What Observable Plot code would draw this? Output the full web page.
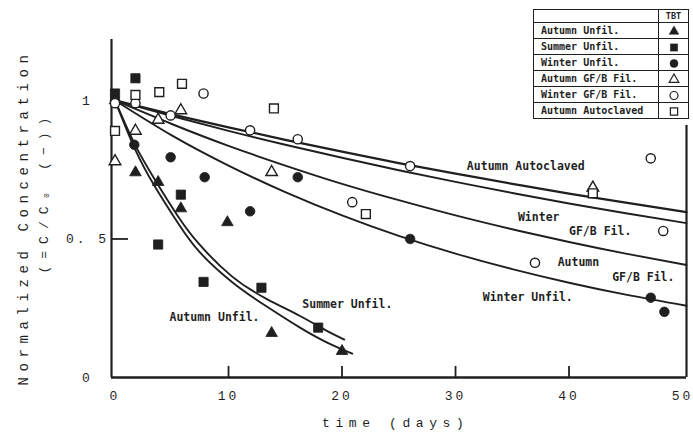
<!DOCTYPE html>
<html><head><meta charset="utf-8">
<script src="https://cdn.jsdelivr.net/npm/d3@7"></script>
<script src="https://cdn.jsdelivr.net/npm/@observablehq/plot@0.6"></script>
<style>
html,body{margin:0;padding:0;background:#fff;}
#wrap{position:relative;width:693px;height:436px;overflow:hidden;background:#fff;}
#legend{position:absolute;left:533px;top:9px;border-collapse:collapse;border:1.5px solid #1f1f1f;background:#fff;
  font-family:"DejaVu Sans Mono",monospace;font-size:10px;font-weight:bold;color:#1f1f1f;}
#legend td{border:1px solid #1f1f1f;padding:0;height:15px;line-height:12px;}
#legend td.name{width:117px;padding-left:7px;text-align:left;}
#legend td.sym{width:29px;text-align:center;}
#legend tr.head td{height:12px;font-size:8.5px;}
#legend svg{display:block;margin:0 auto;}
</style></head>
<body><div id="wrap"></div>
<script>
// ---- measured data (time in days, normalized concentration C/C0) ----
const autumnUnfilT = [0, 1.8, 3.8, 5.8, 9.9, 13.8, 20.0];
const autumnUnfilC = [1.0, 0.74, 0.705, 0.61, 0.56, 0.16, 0.095];
const summerUnfilT = [0, 1.8, 3.8, 5.8, 7.8, 12.9, 17.9];
const summerUnfilC = [1.025, 1.08, 0.48, 0.66, 0.345, 0.324, 0.18];
const winterUnfilT = [0, 1.7, 4.9, 7.9, 11.9, 16.1, 26.0, 47.2, 48.4];
const winterUnfilC = [1.0, 0.84, 0.795, 0.723, 0.60, 0.723, 0.50, 0.288, 0.237];
const autumnGFBT = [0, 1.8, 3.8, 5.8, 13.8, 42.1];
const autumnGFBC = [0.78, 0.89, 0.93, 0.964, 0.741, 0.685];
const winterGFBT = [0, 1.8, 4.9, 7.8, 11.9, 16.1, 20.9, 26.0, 37.0, 47.2, 48.3];
const winterGFBC = [0.99, 0.99, 0.946, 1.025, 0.892, 0.86, 0.633, 0.763, 0.414, 0.791, 0.529];
const autumnAutoT = [0, 1.8, 3.9, 5.9, 14.0, 22.1, 42.1];
const autumnAutoC = [0.89, 1.02, 1.03, 1.06, 0.971, 0.59, 0.665];

// ---- fitted curves ----
const slowT = [0, 5, 10, 15, 20, 25, 30, 35, 40, 45, 50.35];
const curveAutoC = [1, 0.950, 0.903, 0.858, 0.815, 0.774, 0.736, 0.699, 0.664, 0.631, 0.597];
const curveWinterGFBC = [1, 0.944, 0.890, 0.840, 0.793, 0.748, 0.706, 0.666, 0.628, 0.593, 0.557];
const curveAutumnGFBC = [1, 0.915, 0.836, 0.765, 0.699, 0.640, 0.585, 0.535, 0.489, 0.447, 0.406];
const curveWinterUnfilC = [1, 0.874, 0.765, 0.669, 0.585, 0.511, 0.447, 0.391, 0.342, 0.299, 0.259];
const curveSummerT = [0, 1.7, 3.5, 5.5, 7.4, 10.3, 13.3, 16.3, 18.5, 20.2];
const curveSummerC = [1, 0.845, 0.715, 0.585, 0.482, 0.365, 0.285, 0.222, 0.172, 0.137];
const curveAutumnT = [0, 1.7, 3.5, 5.5, 7.4, 10.3, 13.3, 16.3, 18.6, 20.9];
const curveAutumnC = [1, 0.83, 0.69, 0.56, 0.455, 0.345, 0.258, 0.18, 0.128, 0.086];

// ---- in-plot labels ----
const labelText = ["Autumn Autoclaved", "Winter", "GF/B Fil.", "Autumn", "GF/B Fil.", "Winter Unfil.", "Summer Unfil.", "Autumn Unfil."];
const labelT = [31.0, 35.5, 40.0, 39.0, 43.8, 32.4, 16.5, 4.8];
const labelC = [0.763, 0.579, 0.529, 0.417, 0.363, 0.291, 0.263, 0.219];

// ---- axes ----
const xDomain = [-0.31, 50.35];
const yDomain = [0, 1.22];
const xTickLabels = [0, 10, 20, 30, 40, 50];
const xTickMarks = [10, 20, 30, 40];
const yTickValues = [0, 0.5, 1];
const yTickText = ["0", "0. 5", "1"];
const xTitle = "time (days)";
const yTitle1 = "Normalized Concentration";
const yTitle2 = "(=C/C\u2080 (\u2212))";

// ---- legend ----
const legendHeader = "TBT";
const legendNames = ["Autumn Unfil.", "Summer Unfil.", "Winter Unfil.", "Autumn GF/B Fil.", "Winter GF/B Fil.", "Autumn Autoclaved"];
const legendSymbols = ["triangle", "square", "circle", "triangle", "circle", "square"];
const legendFilled = [true, true, true, false, false, false];

const ink = "#1f1f1f";
const pts = (t, c) => t.map((d, i) => ({t: d, c: c[i]}));

const series = [
  {t: autumnUnfilT, c: autumnUnfilC, symbol: "triangle", filled: true, r: 4.3},
  {t: summerUnfilT, c: summerUnfilC, symbol: "square", filled: true, r: 5.2},
  {t: winterUnfilT, c: winterUnfilC, symbol: "circle", filled: true, r: 4.8},
  {t: autumnGFBT, c: autumnGFBC, symbol: "triangle", filled: false, r: 4.3},
  {t: winterGFBT, c: winterGFBC, symbol: "circle", filled: false, r: 4.6},
  {t: autumnAutoT, c: autumnAutoC, symbol: "square", filled: false, r: 5.0}
];
const curves = [
  {t: slowT, c: curveAutoC, w: 2.3},
  {t: slowT, c: curveWinterGFBC, w: 1.9},
  {t: slowT, c: curveAutumnGFBC, w: 1.9},
  {t: slowT, c: curveWinterUnfilC, w: 1.9},
  {t: curveSummerT, c: curveSummerC, w: 1.9},
  {t: curveAutumnT, c: curveAutumnC, w: 1.9}
];
const labels = labelText.map((s, i) => ({label: s, t: labelT[i], c: labelC[i]}));
const yTicks = yTickValues.map((v, i) => ({v, s: yTickText[i]}));

const plot = Plot.plot({
  width: 693, height: 436,
  marginLeft: 111, marginRight: 7, marginTop: 39, marginBottom: 59,
  x: {domain: xDomain, axis: null},
  y: {domain: yDomain, axis: null},
  style: {background: "#fff", color: ink, fontFamily: "'Liberation Mono', monospace"},
  marks: [
    ...curves.map(cv => Plot.line(pts(cv.t, cv.c), {x: "t", y: "c", stroke: ink, strokeWidth: cv.w, curve: "natural"})),
    // axes frame
    Plot.ruleX([xDomain[0]], {y1: yDomain[0], y2: yDomain[1], stroke: ink, strokeWidth: 2.2}),
    Plot.ruleX([xDomain[1]], {y1: yDomain[0], y2: 0.91, stroke: ink, strokeWidth: 2.2}),
    Plot.ruleY([yDomain[0]], {x1: xDomain[0], x2: xDomain[1], stroke: ink, strokeWidth: 2.4}),
    Plot.ruleX(xTickMarks, {y1: 0, y2: 0.04, stroke: ink, strokeWidth: 1.8}),
    Plot.ruleY([0.5], {x1: xDomain[0], x2: xDomain[0] + 1.5, stroke: ink, strokeWidth: 1.8}),
    // tick labels
    Plot.text(xTickLabels, {x: d => d, y: 0, dy: 18, text: d => String(d), fontSize: 13, fill: ink}),
    Plot.text(yTicks, {x: xDomain[0], y: "v", dx: -24, text: "s", fontSize: 13, fill: ink}),
    // titles (start-anchored so the letter spacing grows in the reading direction)
    Plot.text([xTitle], {frameAnchor: "bottom", textAnchor: "start", dx: -77, dy: 49, text: d => d, fontSize: 13, fill: ink}),
    Plot.text([yTitle1], {frameAnchor: "left", textAnchor: "start", dx: -88, dy: 177, rotate: -90, text: d => d, fontSize: 14, fill: ink}),
    Plot.text([yTitle2], {frameAnchor: "left", textAnchor: "start", dx: -68, dy: 65, rotate: -90, text: d => d, fontSize: 13, fill: ink}),
    // curve labels
    Plot.text(labels, {x: "t", y: "c", text: "label", textAnchor: "start", fontSize: 11.5, fontWeight: "bold", fill: ink,
      fontFamily: "'DejaVu Sans Mono', monospace"}),
    // points
    ...series.map(s => Plot.dot(pts(s.t, s.c), {x: "t", y: "c", symbol: s.symbol, r: s.r,
      fill: s.filled ? ink : "#fff", stroke: ink, strokeWidth: s.filled ? 0.8 : 1.4}))
  ]
});
const wrap = document.getElementById("wrap");
wrap.appendChild(plot);
// letter spacing of the typewriter-style axis texts
const tickSet = new Set([...xTickLabels.map(String), ...yTickText]);
d3.select(plot).selectAll("text").each(function() {
  const t = this.textContent;
  if (tickSet.has(t)) this.setAttribute("letter-spacing", "3px");
  else if (t === xTitle || t === yTitle1) this.setAttribute("letter-spacing", "5.6px");
  else if (t === yTitle2) this.setAttribute("letter-spacing", "7px");
});

// legend table
const table = document.createElement("table");
table.id = "legend";
const head = table.insertRow();
head.className = "head";
const h1 = head.insertCell(); h1.className = "name";
const h2 = head.insertCell(); h2.className = "sym"; h2.textContent = legendHeader;
const symMap = {triangle: d3.symbolTriangle, square: d3.symbolSquare, circle: d3.symbolCircle};
const symSize = {triangle: 40, square: 52, circle: 50};
legendNames.forEach((name, i) => {
  const row = table.insertRow();
  const c1 = row.insertCell(); c1.className = "name"; c1.textContent = name;
  const c2 = row.insertCell(); c2.className = "sym";
  const svg = d3.create("svg").attr("width", 12).attr("height", 12);
  svg.append("path").attr("transform", "translate(6,6.5)")
    .attr("d", d3.symbol(symMap[legendSymbols[i]], symSize[legendSymbols[i]])())
    .attr("fill", legendFilled[i] ? ink : "#fff").attr("stroke", ink).attr("stroke-width", legendFilled[i] ? 0.5 : 1.2);
  c2.appendChild(svg.node());
});
wrap.appendChild(table);
</script>
</body></html>
